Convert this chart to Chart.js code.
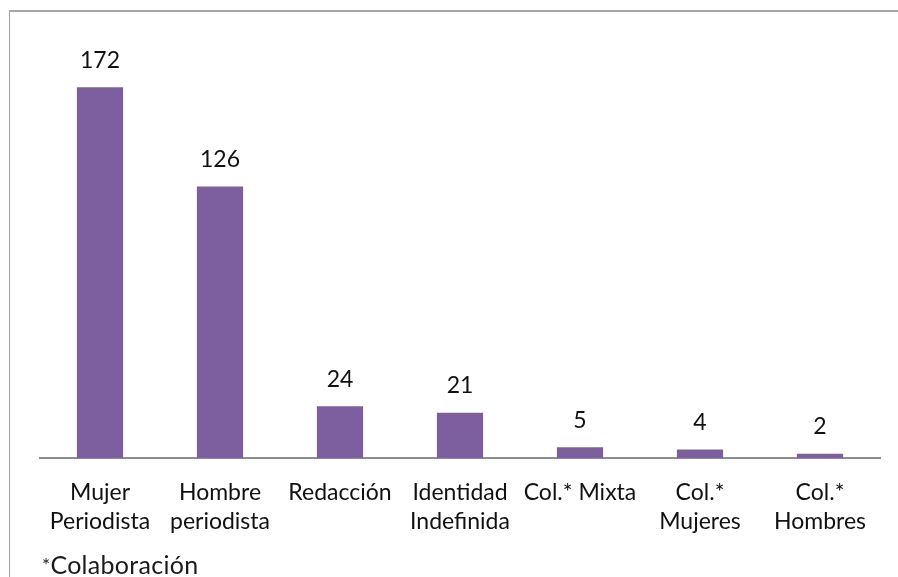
<!DOCTYPE html>
<html>
<head>
<meta charset="utf-8">
<script src="https://cdn.jsdelivr.net/npm/chart.js@4.4.0/dist/chart.umd.min.js"></script>
<style>
  html, body { margin: 0; padding: 0; background: #fff; }
  #wrap { position: relative; width: 898px; height: 577px; overflow: hidden; }
  #frame { position: absolute; left: 9px; top: 10px; width: 900px; height: 600px;
           border-left: 1px solid #a6a6a6; border-top: 2px solid #a6a6a6; }
  #note { position: absolute; left: 42px; top: 549px; font-family: Lato, sans-serif;
          font-size: 25px; color: #1a1a1a; letter-spacing: 0.3px; }
  #note sup { font-size: 19px; vertical-align: 2px; }
  canvas { position: absolute; left: 0; top: 0; }
</style>
</head>
<body>
<div id="wrap">
  <div id="frame"></div>
  <canvas id="chart" width="898" height="577"></canvas>
  <div id="note"><sup>*</sup>Colaboración</div>
</div>
<script>
const categories = [
  ['Mujer', 'Periodista'],
  ['Hombre', 'periodista'],
  ['Redacción'],
  ['Identidad', 'Indefinida'],
  ['Col.* Mixta'],
  ['Col.*', 'Mujeres'],
  ['Col.*', 'Hombres']
];
const values = [172, 126, 24, 21, 5, 4, 2];
const yMax = 200;

const FONT = 'Lato, sans-serif';

// value labels above each bar
const valueLabels = {
  id: 'valueLabels',
  afterDatasetsDraw(chart) {
    const ctx = chart.ctx;
    const meta = chart.getDatasetMeta(0);
    ctx.save();
    ctx.font = '23px ' + FONT;
    ctx.fillStyle = '#111';
    ctx.textAlign = 'center';
    ctx.textBaseline = 'middle';
    meta.data.forEach((bar, i) => {
      ctx.fillText(String(values[i]), bar.x, bar.y - 27);
    });
    ctx.restore();
  }
};

new Chart(document.getElementById('chart').getContext('2d'), {
  type: 'bar',
  data: {
    labels: categories,
    datasets: [{
      data: values,
      backgroundColor: '#7d5fa0',
      borderWidth: 0,
      barPercentage: 0.385,
      categoryPercentage: 1
    }]
  },
  options: {
    responsive: false,
    animation: false,
    devicePixelRatio: 1,
    layout: { padding: { left: 40, right: 18, top: 27, bottom: 0 } },
    plugins: { legend: { display: false }, tooltip: { enabled: false } },
    scales: {
      x: {
        grid: { display: false, drawTicks: false },
        border: { display: true, color: '#8c8c8c', width: 2 },
        ticks: {
          color: '#111',
          font: { family: FONT, size: 23, lineHeight: 1.26 },
          padding: 20,
          maxRotation: 0,
          autoSkip: false
        },
        afterFit(scale) { scale.height = 119; }
      },
      y: {
        display: false,
        min: 0,
        max: yMax
      }
    }
  },
  plugins: [valueLabels]
});
</script>
</body>
</html>
